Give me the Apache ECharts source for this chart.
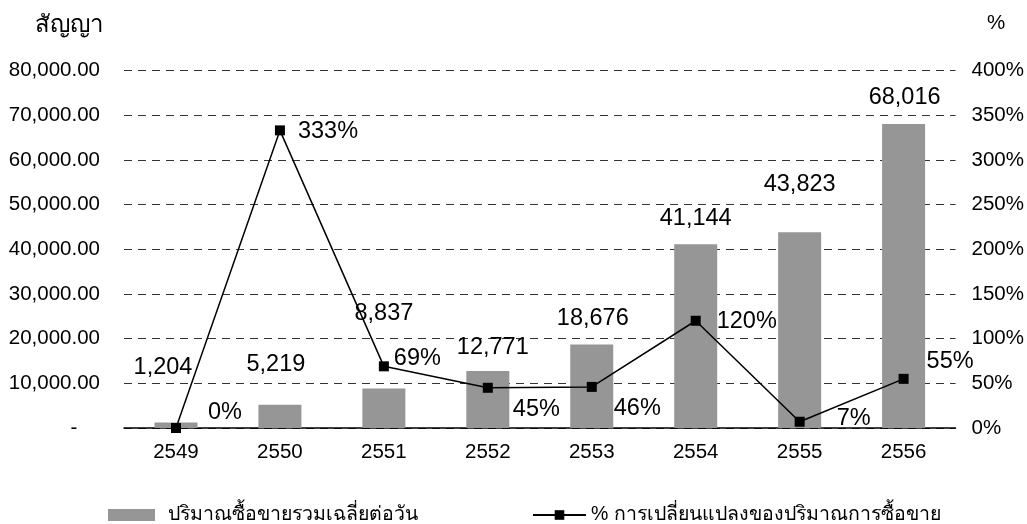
<!DOCTYPE html>
<html>
<head>
<meta charset="utf-8">
<script src="https://cdn.jsdelivr.net/npm/echarts@6/dist/echarts.min.js"></script>
<style>
  html, body { margin: 0; padding: 0; background: #fff; }
  #chart { width: 1027px; height: 524px; }
</style>
</head>
<body>
<div id="chart"></div>
<script>
// Average daily contract volume by Buddhist-era year, with year-on-year change
const years = ['2549', '2550', '2551', '2552', '2553', '2554', '2555', '2556'];
const avgVolume = [1204, 5219, 8837, 12771, 18676, 41144, 43823, 68016];
const pctChange = [0, 333, 69, 45, 46, 120, 7, 55];
const volumeTicks = [0, 10000, 20000, 30000, 40000, 50000, 60000, 70000, 80000];
const pctTicks = [0, 50, 100, 150, 200, 250, 300, 350, 400];

const barName = 'ปริมาณซื้อขายรวมเฉลี่ยต่อวัน';
const lineName = '% การเปลี่ยนแปลงของปริมาณการซื้อขาย';

// label nudges so value texts sit clear of the line and of each other
const barLabelShift = [[-13, -38], [-4, -23], [0, -58], [5, -6], [1, -9], [0, -9], [0, -31], [1, -10]];
const lineLabelShift = [[22, -15], [8, 1], [0, -8], [15, 22], [12, 22], [11, 1], [27, -3], [13, -17]];

const FONT = '"Liberation Sans", Arial, sans-serif';
const AXIS_TXT = { fontFamily: FONT, fontSize: 20.5, color: '#000' };
const VALUE_TXT = { fontFamily: FONT, fontSize: 23.5, color: '#000' };
const LEGEND_TXT = { fontFamily: FONT, fontSize: 19.5, color: '#000' };

function fmtThousands(v) {
  return v.toLocaleString('en-US');
}

const chart = echarts.init(document.getElementById('chart'), null, { renderer: 'canvas' });

chart.setOption({
  animation: false,
  backgroundColor: '#fff',
  grid: { left: 124, right: 70, top: 70.5, bottom: 96, containLabel: false },
  graphic: [
    { type: 'text', left: 35, top: 13, style: { text: 'สัญญา', font: '24px ' + FONT, fill: '#000' } },
    { type: 'text', left: 987, top: 13, style: { text: '%', font: '20.5px ' + FONT, fill: '#000' } }
  ],
  legend: [
    {
      data: [barName], left: 108, top: 505, padding: 0, itemWidth: 47, itemHeight: 12, itemGap: 10,
      textStyle: Object.assign({ padding: [0, 0, 0, 8] }, LEGEND_TXT), icon: 'rect'
    },
    {
      data: [lineName], left: 532, top: 505, padding: 0, itemWidth: 53, itemHeight: 12,
      textStyle: LEGEND_TXT
    }
  ],
  xAxis: {
    type: 'category',
    data: years,
    axisLine: { lineStyle: { color: '#000', width: 1.5 } },
    axisTick: { show: false },
    axisLabel: Object.assign({ margin: 14 }, AXIS_TXT)
  },
  yAxis: [
    {
      type: 'value', min: volumeTicks[0], max: volumeTicks[volumeTicks.length - 1], interval: 10000,
      axisLine: { show: false }, axisTick: { show: false },
      axisLabel: Object.assign({
        margin: 24,
        formatter: v => v === 0 ? '-    ' : v.toLocaleString('en-US', { minimumFractionDigits: 2, maximumFractionDigits: 2 })
      }, AXIS_TXT),
      splitLine: { lineStyle: { color: '#333', type: [8, 6], width: 1 } }
    },
    {
      type: 'value', min: pctTicks[0], max: pctTicks[pctTicks.length - 1], interval: 50,
      axisLine: { show: false }, axisTick: { show: false },
      axisLabel: Object.assign({ margin: 16, formatter: v => v + '%' }, AXIS_TXT),
      splitLine: { show: false }
    }
  ],
  series: [
    {
      name: barName,
      type: 'bar',
      barWidth: 43,
      itemStyle: { color: '#969696' },
      data: avgVolume.map((v, i) => ({
        value: v,
        label: { offset: barLabelShift[i] }
      })),
      label: Object.assign({ show: true, position: 'top', distance: 5, formatter: p => fmtThousands(p.value) }, VALUE_TXT),
      z: 2
    },
    {
      name: lineName,
      type: 'line',
      yAxisIndex: 1,
      symbol: 'rect',
      symbolSize: 10,
      itemStyle: { color: '#000' },
      lineStyle: { color: '#000', width: 1.5 },
      data: pctChange.map((v, i) => ({
        value: v,
        label: { offset: lineLabelShift[i] }
      })),
      label: Object.assign({ show: true, position: 'right', distance: 5, formatter: p => p.value + '%' }, VALUE_TXT),
      z: 3
    }
  ]
});
</script>
</body>
</html>
